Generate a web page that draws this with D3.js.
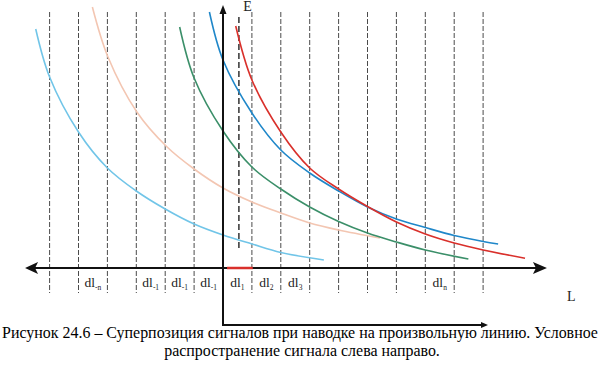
<!DOCTYPE html>
<html>
<head>
<meta charset="utf-8">
<script src="https://cdn.jsdelivr.net/npm/d3@7"></script>
<style>
  html, body { margin: 0; padding: 0; background: #fff; }
  svg { display: block; }
</style>
</head>
<body>
<svg id="chart" width="601" height="365"></svg>
<script>
// ---- data (x in units of dl, E in arbitrary units) ----
const gridLines = [-6, -5, -4, -3, -2, -1, 1, 2, 3, 4, 5, 6, 7, 8, 9];
const labelPos = [-4.5, -2.5, -1.5, -0.5, 0.5, 1.5, 2.5, 7.5];
const labelSubs = ["-n", "-1", "-1", "-1", "1", "2", "3", "n"];

const curveLightBlue = [[-6.48,239],[-6,191],[-5,136],[-4,100],[-3,77],[-2,59],[-1,44],[0,33],[1,24],[2,15.5],[3.49,8]];
const curvePeach = [[-4.52,261],[-3.98,211],[-2.98,156],[-1.97,122],[-1,99],[0,80],[1,66],[2,55],[3,45],[4,38],[5.43,30]];
const curveGreen = [[-1.5,241],[-1,190],[0,137],[1,101],[2,79],[3,61],[4,46.5],[5,35],[6,26],[7,18],[8.49,9]];
const curveBlue = [[-0.47,256],[0,208],[1,155],[2,118],[3,95],[4,77],[5,61],[6,49],[7,40.5],[8,32.5],[9,26.5],[9.52,24]];
const curveRed = [[0.44,242],[1,188],[2,136],[3,100],[4,79],[5,61.5],[6,46],[7,34],[8,25],[9,18],[10.45,9.7]];

const curves = [
  {pts: curveLightBlue, color: "#71c5e8"},
  {pts: curvePeach, color: "#f3c6b2"},
  {pts: curveGreen, color: "#3b8f69"},
  {pts: curveBlue, color: "#1f87c9"},
  {pts: curveRed, color: "#d9302b"}
];

const captionLines = [
  "Рисунок 24.6 – Суперпозиция сигналов при наводке на произвольную линию. Условное",
  "распространение сигнала слева направо."
];

const FONT = '"Liberation Serif"';

// ---- scales ----
const x = d3.scaleLinear().domain([0, 1]).range([223, 251.9]);
const y = d3.scaleLinear().domain([0, 100]).range([268, 168]);

const svg = d3.select("#chart");

// dashed verticals
svg.append("g").selectAll("line").data(gridLines).join("line")
  .attr("x1", d => x(d)).attr("x2", d => x(d))
  .attr("y1", y(256)).attr("y2", y(-25))
  .attr("stroke", "#4a4a4a").attr("stroke-width", 1)
  .attr("stroke-dasharray", "5,2");

// extra short dashed line
svg.append("line")
  .attr("x1", x(0.55)).attr("x2", x(0.55))
  .attr("y1", y(251)).attr("y2", y(18))
  .attr("stroke", "#333").attr("stroke-width", 1.5)
  .attr("stroke-dasharray", "6,3");

// curves
const line = d3.line().x(d => x(d[0])).y(d => y(d[1])).curve(d3.curveCatmullRom.alpha(0.5));
svg.append("g").selectAll("path").data(curves).join("path")
  .attr("d", d => line(d.pts))
  .attr("fill", "none")
  .attr("stroke", d => d.color)
  .attr("stroke-width", 1.6);

// horizontal axis with double arrow
const axY = y(0);
const xl = x(-6.85), xr = x(11.21);
svg.append("line").attr("x1", xl + 8).attr("x2", xr - 8)
  .attr("y1", axY).attr("y2", axY).attr("stroke", "#111").attr("stroke-width", 2);
svg.append("path")
  .attr("d", `M${xl},${axY} L${xl+13},${axY-6} L${xl+10},${axY} L${xl+13},${axY+6} Z`)
  .attr("fill", "#111");
svg.append("path")
  .attr("d", `M${xr},${axY} L${xr-14},${axY-6} L${xr-11},${axY} L${xr-14},${axY+6} Z`)
  .attr("fill", "#111");

// red segment on axis
svg.append("line").attr("x1", x(0.14)).attr("x2", x(1.03))
  .attr("y1", axY).attr("y2", axY).attr("stroke", "#d9302b").attr("stroke-width", 2.5);

// vertical axis (E) with L-shaped lower part
const vx = x(0);
const yTop = y(263), yBot = y(-57), hxEnd = x(9.17);
svg.append("path")
  .attr("d", `M${vx},${yTop + 6} L${vx},${yBot} L${hxEnd - 5},${yBot}`)
  .attr("fill", "none").attr("stroke", "#111").attr("stroke-width", 2);
svg.append("path")
  .attr("d", `M${vx},${yTop} L${vx-3.5},${yTop+9} L${vx+3.5},${yTop+9} Z`)
  .attr("fill", "#111");
svg.append("path")
  .attr("d", `M${hxEnd},${yBot} L${hxEnd-7},${yBot-3} L${hxEnd-7},${yBot+3} Z`)
  .attr("fill", "#111");

// dl labels
const lab = svg.append("g").attr("fill", "#222");
labelPos.forEach((p, i) => {
  const t = lab.append("text").attr("x", x(p)).attr("y", y(-19))
    .attr("text-anchor", "middle").attr("font-size", 13.5).style("font-family", FONT);
  t.append("tspan").text("dl");
  t.append("tspan").attr("font-size", 7.5).attr("dy", 3).text(labelSubs[i]);
});

// axis letters
lab.append("text").attr("x", x(0.85)).attr("y", y(257)).attr("text-anchor", "middle")
  .attr("font-size", 14).style("font-family", FONT).text("E");
lab.append("text").attr("x", x(12.05)).attr("y", y(-33)).attr("text-anchor", "middle")
  .attr("font-size", 14).style("font-family", FONT).text("L");

// caption
const cap = svg.append("g").attr("fill", "#000");
const t1 = cap.append("text").attr("x", 300).attr("y", 338).attr("text-anchor", "middle")
  .attr("font-size", 14).style("font-family", FONT).text(captionLines[0]);
const w = t1.node().getComputedTextLength();
const fs = 14 * 596 / w;
t1.attr("font-size", fs);
cap.append("text").attr("x", 302).attr("y", 356).attr("text-anchor", "middle")
  .attr("font-size", fs).style("font-family", FONT).text(captionLines[1]);
</script>
</body>
</html>
